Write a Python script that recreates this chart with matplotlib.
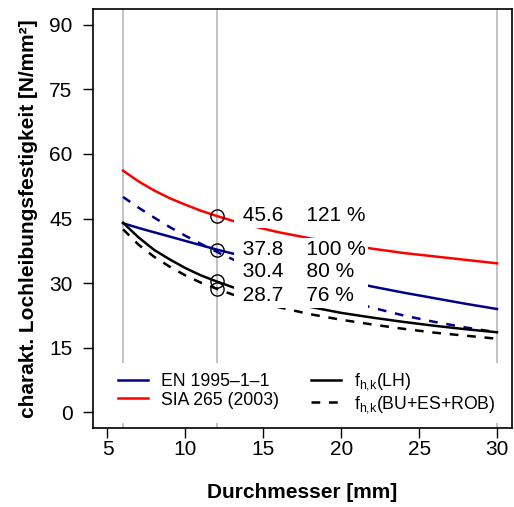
import numpy as np
import matplotlib
matplotlib.use("Agg")
import matplotlib.pyplot as plt
from matplotlib.lines import Line2D

plt.rcParams['font.family'] = ['Liberation Sans', 'DejaVu Sans']
plt.rcParams['mathtext.fontset'] = 'custom'
plt.rcParams['mathtext.rm'] = 'Liberation Sans'
plt.rcParams['mathtext.it'] = 'Liberation Sans:italic'

# diameters [mm]
d = [6, 7, 8, 9, 10, 11, 12, 13, 14, 16, 18, 20, 22, 24, 26, 28, 30]

# characteristic embedding strength [N/mm2]
en_solid = [43.9, 42.8, 41.8, 40.8, 39.8, 38.8, 37.8, 36.9, 36.0, 34.2, 32.5,
            30.8, 29.2, 27.8, 26.5, 25.2, 24.0]
en_dashed = [50.0, 47.5, 45.2, 43.0, 41.0, 39.1, 37.3, 35.6, 34.0, 31.1, 28.6,
             26.3, 24.3, 22.5, 21.0, 19.7, 18.6]
sia_solid = [56.1, 53.6, 51.5, 49.7, 48.2, 46.8, 45.6, 44.5, 43.5, 41.8, 40.4,
             39.1, 38.0, 37.0, 36.2, 35.4, 34.6]
lh_solid = [44.0, 40.6, 37.7, 35.5, 33.5, 31.8, 30.4, 29.1, 28.0, 26.1, 24.5,
            23.1, 22.0, 21.0, 20.1, 19.3, 18.6]
bu_dashed = [42.5, 38.9, 36.1, 33.8, 31.8, 30.1, 28.7, 27.4, 26.3, 24.4, 22.8,
             21.5, 20.4, 19.4, 18.5, 17.8, 17.1]

# values at d = 12 mm
d_ref = 12
ref_vals = [45.6, 37.8, 30.4, 28.7]
ref_base = 37.8
label_shift = [0, 0, 2.3, -1.6]

vlines_x = [6, 12, 30]

blue = '#00008B'
red = '#FF0000'
dash = (0, (3.5, 3.5))

fig = plt.figure(figsize=(5.14, 5.07), dpi=100)
ax = fig.add_axes([0.180, 0.156, 0.816, 0.826])

for xv in vlines_x:
    ax.axvline(xv, color='#BEBEBE', lw=1.3, zorder=1)

ax.plot(d, sia_solid, color=red, lw=1.8, zorder=2)
ax.plot(d, en_solid, color=blue, lw=1.8, zorder=2)
ax.plot(d, en_dashed, color=blue, lw=1.8, ls=dash, zorder=2)
ax.plot(d, lh_solid, color='black', lw=1.8, zorder=2)
ax.plot(d, bu_dashed, color='black', lw=1.8, ls=dash, zorder=2)

ax.plot([d_ref] * len(ref_vals), ref_vals, 'o', mfc='none', mec='black',
        ms=9.5, mew=1.0, zorder=4)

for v, s in zip(ref_vals, label_shift):
    pct = round(v / ref_base * 100)
    tail = '' if pct >= 100 else '  '
    ax.text(13.3, v + s, ' %.1f    %d %%%s' % (v, pct, tail), fontsize=15,
            va='center', ha='left', zorder=3,
            bbox=dict(boxstyle='square,pad=0.12', fc='white', ec='none'))

ax.set_xlim(4.04, 30.96)
ax.set_ylim(-3.6, 93.6)
ax.set_xticks([5, 10, 15, 20, 25, 30])
ax.set_yticks([0, 15, 30, 45, 60, 75, 90])
ax.tick_params(axis='both', direction='out', length=7.5, width=1.0, labelsize=15)
ax.tick_params(axis='x', pad=1.5)
ax.tick_params(axis='y', pad=7)
for sp in ax.spines.values():
    sp.set_linewidth(1.2)

ax.set_xlabel('Durchmesser [mm]', fontsize=15, fontweight='bold', labelpad=17)
ax.set_ylabel('charakt. Lochleibungsfestigkeit [N/mm²]', fontsize=15,
              fontweight='bold', labelpad=8)

handles = [
    Line2D([], [], color=blue, lw=1.8),
    Line2D([], [], color=red, lw=1.8),
    Line2D([], [], color='black', lw=1.8),
    Line2D([], [], color='black', lw=1.8, ls=dash),
]
labels = ['EN 1995–1–1', 'SIA 265 (2003)', r'f$_{\mathrm{h{,}k}}$(LH)',
          r'f$_{\mathrm{h{,}k}}$(BU+ES+ROB)']
leg = ax.legend(handles, labels, ncol=2, loc='lower center',
                bbox_to_anchor=(0.51, 0.012), fontsize=12.7, frameon=True,
                fancybox=False, edgecolor='none', facecolor='white',
                framealpha=1, handlelength=1.7, handletextpad=0.75,
                columnspacing=1.8, labelspacing=0.1, borderpad=0.45,
                borderaxespad=0)
leg.set_zorder(5)

fig.savefig('out.png', dpi=100)
